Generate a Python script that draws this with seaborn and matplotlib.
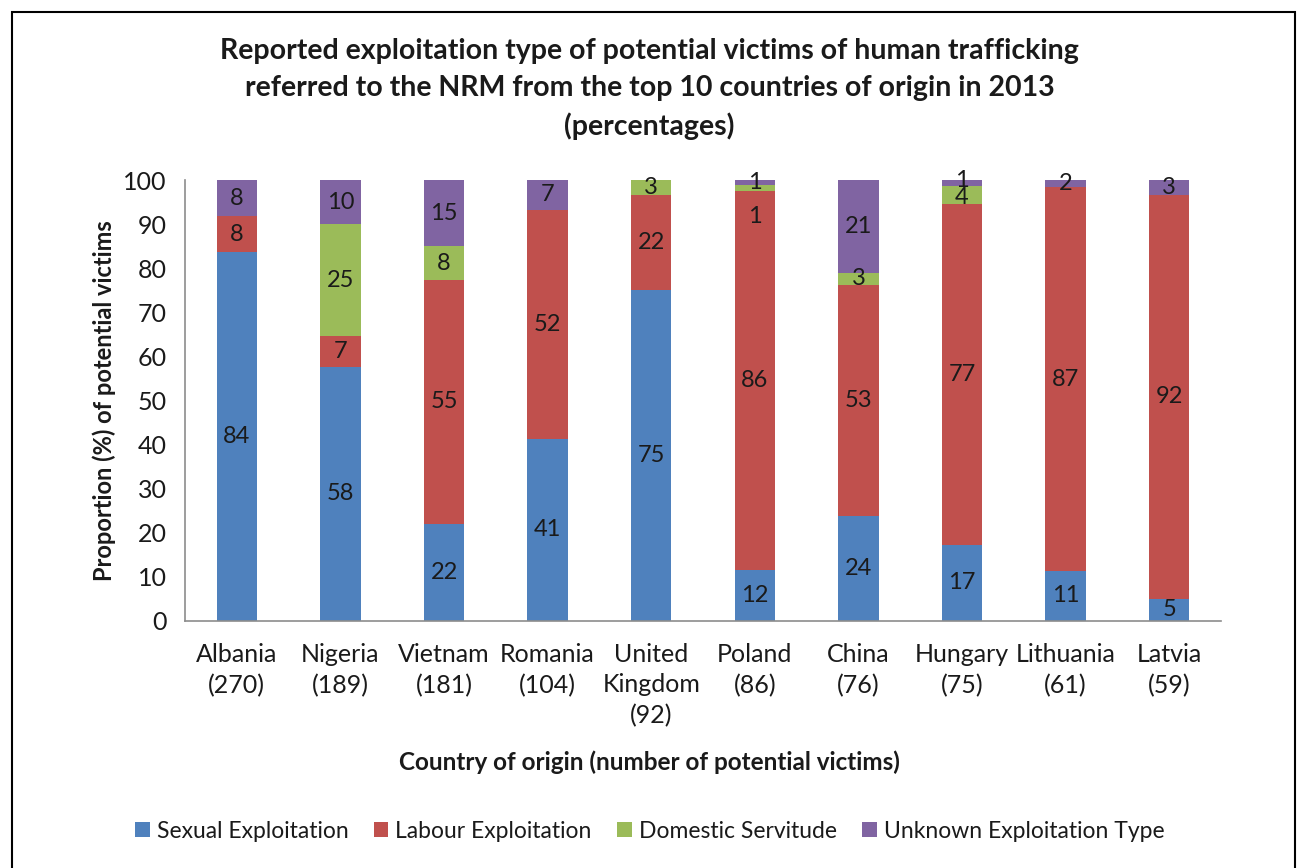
import matplotlib
matplotlib.use("Agg")
import matplotlib.pyplot as plt
from matplotlib.patches import Rectangle
import seaborn as sns
import numpy as np
import pandas as pd

# data (percent of potential victims per country)
countries = ["Albania\n(270)", "Nigeria\n(189)", "Vietnam\n(181)", "Romania\n(104)",
             "United\nKingdom\n(92)", "Poland\n(86)", "China\n(76)", "Hungary\n(75)",
             "Lithuania\n(61)", "Latvia\n(59)"]
sexual = [83.7, 57.7, 22.1, 41.3, 75.0, 11.6, 23.7, 17.3, 11.4, 5.1]
labour = [8.1, 6.9, 55.2, 51.9, 21.7, 86.0, 52.6, 77.3, 86.9, 91.5]
domestic = [0, 25.4, 7.7, 0, 3.3, 1.2, 2.6, 4.0, 0, 0]
unknown = [8.2, 10.0, 15.0, 6.8, 0, 1.2, 21.1, 1.4, 1.7, 3.4]

series_names = ["Sexual Exploitation", "Labour Exploitation", "Domestic Servitude",
                "Unknown Exploitation Type"]
colors = ["#4F81BD", "#C0504D", "#9BBB59", "#8064A2"]

sns.set_style("white")
plt.rcParams['font.family'] = ['Lato', 'DejaVu Sans']
txt = "#1a1a1a"

df = pd.DataFrame({"country": countries, series_names[0]: sexual, series_names[1]: labour,
                   series_names[2]: domestic, series_names[3]: unknown})
cum = df[series_names].cumsum(axis=1)

fig = plt.figure(figsize=(12.99, 8.68), dpi=100)
ax = fig.add_axes([185 / 1299, 1 - 621 / 868, 1036 / 1299, 441 / 868])

# stacked bars: draw cumulative totals from the top down
for name, col in reversed(list(zip(series_names, colors))):
    sns.barplot(x=df["country"], y=cum[name], color=col, saturation=1, width=0.39,
                ax=ax, label=name, linewidth=0)

# segment labels at segment centres (a few small ones shifted like the original)
nudge = {(5, 2): -6.5, (7, 3): 0.6, (7, 2): -0.6}
for j, name in enumerate(series_names):
    base = cum[name] - df[name]
    for i in range(len(countries)):
        v = df[name].iloc[i]
        if v <= 0:
            continue
        y = base.iloc[i] + v / 2 + nudge.get((i, j), 0)
        ax.text(i, y, f"{v:.0f}", ha="center", va="center", fontsize=17, color=txt)

ax.set_ylim(0, 100)
ax.set_xlim(-0.5, len(countries) - 0.5)
ax.set_yticks(np.arange(0, 101, 10))
ax.set_xticks(np.arange(-0.5, len(countries), 1), minor=True)
ax.tick_params(axis="x", which="major", length=0, pad=16, labelsize=18, colors=txt)
ax.tick_params(axis="x", which="minor", length=6, color="#8c8c8c", direction="out")
ax.tick_params(axis="y", length=5, direction="out", labelsize=18, pad=8,
               color="#8c8c8c", labelcolor=txt)
for s in ["top", "right"]:
    ax.spines[s].set_visible(False)
for s in ["left", "bottom"]:
    ax.spines[s].set_color("#8c8c8c")
    ax.spines[s].set_linewidth(1.2)
for lab in ax.get_xticklabels():
    lab.set_linespacing(1.38)
    lab.set_va("top")

ax.set_ylabel("Proportion (%) of potential victims", fontsize=17, fontweight="bold",
              color=txt, labelpad=5)
ax.set_xlabel("")
fig.text(0.5, 1 - 762 / 868, "Country of origin (number of potential victims)",
         ha="center", va="center", fontsize=17.5, fontweight="bold", color=txt)

fig.text(0.5, 1 - 89 / 868,
         "Reported exploitation type of potential victims of human trafficking\n"
         "referred to the NRM from the top 10 countries of origin in 2013\n(percentages)",
         ha="center", va="center", fontsize=20.5, fontweight="bold", color=txt,
         linespacing=1.5)

handles, labels = ax.get_legend_handles_labels()
order = [labels.index(n) for n in series_names]
leg = fig.legend([handles[k] for k in order], series_names, loc="center",
                 bbox_to_anchor=(0.5, 1 - 831 / 868), ncol=4, frameon=False, fontsize=16.5,
                 handlelength=0.65, handleheight=0.65, handletextpad=0.3, columnspacing=1.1)
for t in leg.get_texts():
    t.set_color(txt)
if ax.legend_:
    ax.legend_.remove()

fig.patches.append(Rectangle((12 / 1299, -0.01), 1283 / 1299, 1 - 12 / 868 + 0.01,
                             transform=fig.transFigure, fill=False, edgecolor="black",
                             linewidth=1.5))

fig.savefig("out.png", dpi=100)
